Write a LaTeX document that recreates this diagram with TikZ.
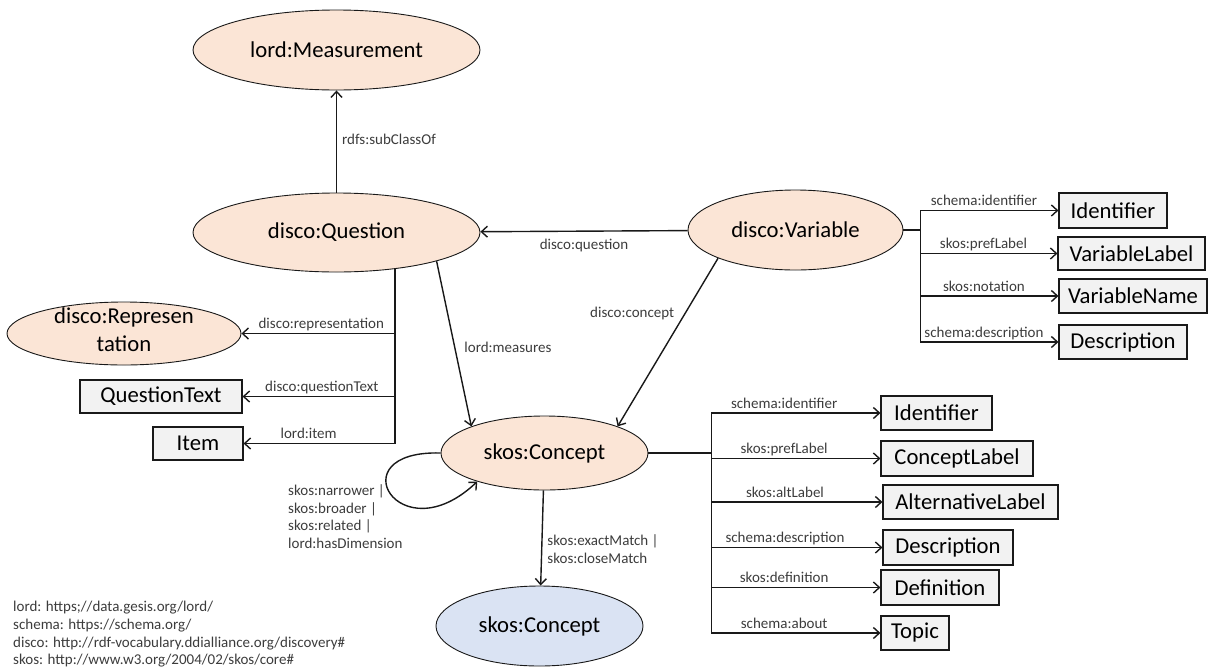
\documentclass[tikz,border=0pt]{standalone}
\usepackage{fontspec}
\setmainfont{Carlito}
\usetikzlibrary{shapes.geometric,arrows.meta}

\definecolor{classfill}{RGB}{251,229,214}
\definecolor{extfill}{RGB}{218,227,243}
\definecolor{litfill}{RGB}{242,242,242}
\definecolor{edgecol}{RGB}{25,25,25}
\definecolor{labelcol}{RGB}{60,60,60}

\tikzset{
  cls/.style={ellipse, draw=edgecol, line width=0.9pt, fill=classfill, inner sep=0pt,
              font=\fontsize{22.7}{28}\selectfont},
  ext/.style={cls, fill=extfill},
  lit/.style={rectangle, draw=edgecol, line width=1.1pt, fill=litfill, inner sep=0pt,
              font=\fontsize{22.7}{28}\selectfont},
  link/.style={line width=1.4pt, draw=edgecol},
  arr/.style={link, -{Straight Barb[length=6pt,width=11pt]}},
  trunk/.style={line width=2.6pt, draw=edgecol},
  lbl/.style={font=\fontsize{15}{17.7}\selectfont, text=labelcol, inner sep=0pt},
  above lbl/.style={lbl, anchor=base, yshift=5pt},
}

\begin{document}
\begin{tikzpicture}[x=1pt,y=-1pt]
\useasboundingbox (0,0) rectangle (1210,667);

% classes
\node[cls, minimum width=287pt, minimum height=80pt] (meas) at (336.5,50) {lord:Measurement};
\node[cls, minimum width=287pt, minimum height=79pt] (q) at (336.5,232.5) {disco:Question};
\node[cls, minimum width=215pt, minimum height=80pt] (v) at (795.5,230) {disco:Variable};
\node[cls, minimum width=234pt, minimum height=63pt] (rep) at (124,333.5)
  {\smash{\raisebox{-4pt}{\begin{tabular}{@{}c@{}}disco:Represen\\tation\end{tabular}}}};
\node[cls, minimum width=207pt, minimum height=74pt] (c) at (544.5,453) {skos:Concept};
\node[ext, minimum width=207pt, minimum height=80pt] (cx) at (539.5,626) {skos:Concept};

% literals of the question
\node[lit, minimum width=162pt, minimum height=33pt] (qt) at (161,396.5) {QuestionText};
\node[lit, minimum width=90pt, minimum height=33pt] (item) at (198,443.5) {Item};

% literals of the variable
\node[lit, minimum width=108pt, minimum height=35pt] (vi) at (1113,210.5) {Identifier};
\node[lit, minimum width=147pt, minimum height=33pt] (vl) at (1131.5,253.5) {VariableLabel};
\node[lit, minimum width=148pt, minimum height=34pt] (vn) at (1133,296) {VariableName};
\node[lit, minimum width=128pt, minimum height=34pt] (vd) at (1123,342) {Description};

% literals of the concept
\node[lit, minimum width=111pt, minimum height=34pt] (ci) at (936.5,413) {Identifier};
\node[lit, minimum width=152pt, minimum height=35pt] (cl) at (957,458.5) {ConceptLabel};
\node[lit, minimum width=175pt, minimum height=34pt] (ca) at (970.5,502) {AlternativeLabel};
\node[lit, minimum width=130pt, minimum height=35pt] (cd) at (948,547.5) {Description};
\node[lit, minimum width=118pt, minimum height=35pt] (cf) at (940,587.5) {Definition};
\node[lit, minimum width=68pt, minimum height=34pt] (ct) at (915,633) {Topic};

% main relations
\draw[arr] (q) -- node[lbl, anchor=base west, xshift=5pt, yshift=-2.5pt] {rdfs:subClassOf} (meas);
\draw[arr] (v) -- node[lbl, anchor=base, yshift=-18pt] {disco:question} (q);
\draw[arr] (q.-16) -- node[pos=0.55, lbl, anchor=base west, xshift=8pt] {lord:measures} (c.160);
\draw[arr] (v.200) -- node[pos=0.35, lbl, anchor=base east, xshift=-8pt] {disco:concept} (c.20);
\draw[arr] (c) -- node[pos=0.62, lbl, align=left, anchor=west, xshift=5pt]
  {skos:exactMatch |\\skos:closeMatch} (cx);

% concept to concept loop
\draw[arr] (c.west) .. controls +(-104,-3) and +(-78,74) .. (c.203);
\node[lbl, align=left, anchor=west] (looplbl) at (288,516.5)
  {skos:narrower |\\skos:broader |\\skos:related |\\lord:hasDimension};

% question attributes
\coordinate (qj) at (q.-32.5 |- item);
\draw[trunk] (q.-32.5) -- (qj);
\draw[arr] (q.-32.5 |- rep) -- node[pos=0.48, above lbl] {disco:representation} (rep);
\draw[arr] (q.-32.5 |- qt) -- node[pos=0.48, above lbl] {disco:questionText} (qt);
\draw[arr] (qj) -- node[pos=0.57, above lbl] {lord:item} (item);

% variable attributes
\draw[link] (v.east) -- ++(17,0) coordinate (vj);
\draw[link] (vj |- vi) -- (vj |- vd);
\draw[arr] (vj |- vi) -- node[pos=0.46, above lbl] {schema:identifier} (vi);
\draw[arr] (vj |- vl) -- node[pos=0.46, above lbl] {skos:prefLabel} (vl);
\draw[arr] (vj |- vn) -- node[pos=0.46, above lbl] {skos:notation} (vn);
\draw[arr] (vj |- vd) -- node[pos=0.46, above lbl] {schema:description} (vd);

% concept attributes
\draw[link] (c.east) -- ++(63,0) coordinate (cj);
\draw[link] (cj |- ci) -- (cj |- ct);
\draw[arr] (cj |- ci) -- node[pos=0.43, above lbl] {schema:identifier} (ci);
\draw[arr] (cj |- cl) -- node[pos=0.43, above lbl] {skos:prefLabel} (cl);
\draw[arr] (cj |- ca) -- node[pos=0.43, above lbl] {skos:altLabel} (ca);
\draw[arr] (cj |- cd) -- node[pos=0.43, above lbl] {schema:description} (cd);
\draw[arr] (cj |- cf) -- node[pos=0.43, above lbl] {skos:definition} (cf);
\draw[arr] (cj |- ct) -- node[pos=0.43, above lbl] {schema:about} (ct);

% namespace prefixes
\node[lbl, align=left, anchor=west] (ns) at (13,634.5)
  {lord: https;//data.gesis.org/lord/\\
   schema: https://schema.org/\\
   disco: http://rdf-vocabulary.ddialliance.org/discovery\#\\
   skos: http://www.w3.org/2004/02/skos/core\#};
\end{tikzpicture}
\end{document}
